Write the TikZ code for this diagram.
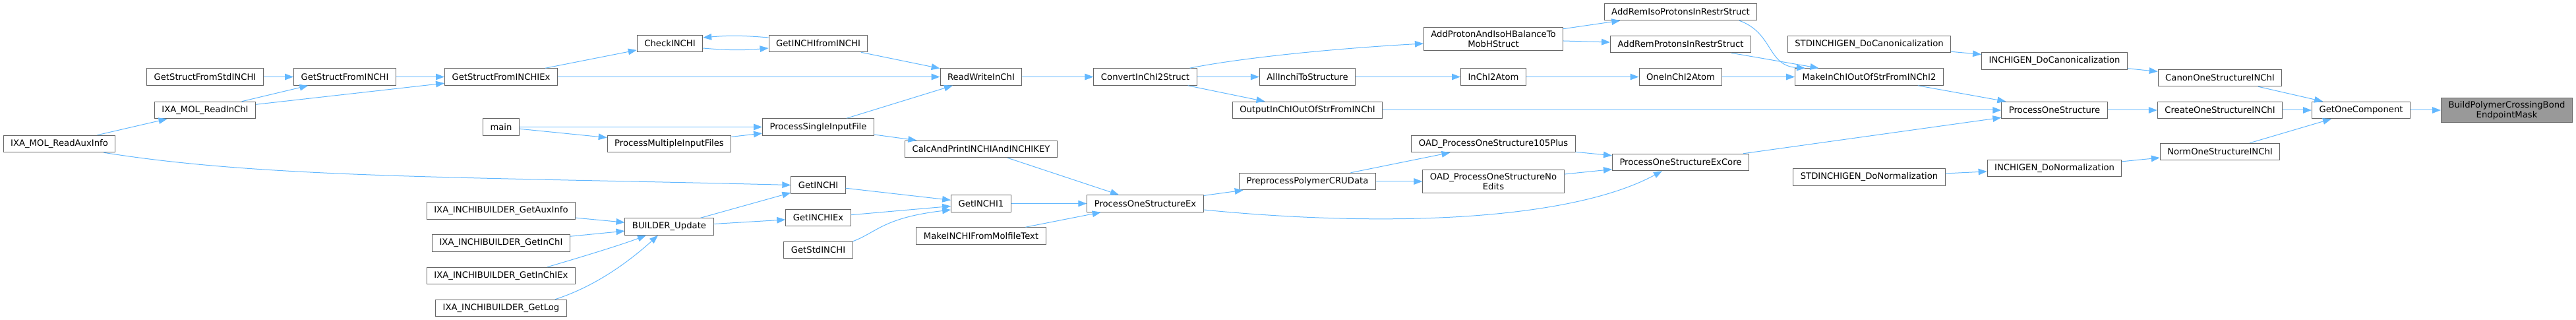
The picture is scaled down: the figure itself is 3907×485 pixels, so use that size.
\documentclass[tikz,border=0pt]{standalone}
\usepackage{fontspec}
\setmainfont{DejaVu Sans}
\usepackage{tikz}
\usetikzlibrary{arrows.meta}
\definecolor{edgeBlue}{RGB}{99, 184, 255}
\definecolor{boxGray}{RGB}{102, 102, 102}
\definecolor{hiGray}{RGB}{153, 153, 153}

\begin{document}
\begin{tikzpicture}[x=0.5pt,y=-0.5pt,
    fn/.style={draw=boxGray, line width=0.5pt, rectangle, fill=white, minimum height=12.75pt, inner xsep=5.5pt, inner ysep=2.4pt, align=center, font=\fontsize{6.6}{7.5}\selectfont},
    fnhi/.style={fn, fill=hiGray},
    call/.style={-{Triangle[length=6.5pt,width=4.8pt]}, edgeBlue, line width=0.5pt}]
        \useasboundingbox (0,0) rectangle (3907,485);

        % Callers on the far left
        \node[fn] (read_aux) at (90,218) {IXA\_MOL\_ReadAuxInfo};
        \node[fn] (struct_std) at (311,116.5) {GetStructFromStdINCHI};
        \node[fn] (read_inchi) at (311,167) {IXA\_MOL\_ReadInChI};
        \node[fn] (struct_inchi) at (523,116.5) {GetStructFromINCHI};
        \node[fn] (struct_ex) at (760,116.5) {GetStructFromINCHIEx};
        \node[fn] (main_fn) at (760,192.5) {main};
        \node[fn] (bld_aux) at (760,319.5) {IXA\_INCHIBUILDER\_GetAuxInfo};
        \node[fn] (bld_inchi) at (760,368.5) {IXA\_INCHIBUILDER\_GetInChI};
        \node[fn] (bld_inchiex) at (760,418) {IXA\_INCHIBUILDER\_GetInChIEx};
        \node[fn] (bld_log) at (760,467) {IXA\_INCHIBUILDER\_GetLog};

        % Second block
        \node[fn] (check_inchi) at (1016,66) {CheckINCHI};
        \node[fn] (multi_files) at (1015,218) {ProcessMultipleInputFiles};
        \node[fn] (bld_update) at (1015,343.5) {BUILDER\_Update};
        \node[fn] (inchi_from) at (1241,66) {GetINCHIfromINCHI};
        \node[fn] (single_file) at (1241,192.5) {ProcessSingleInputFile};
        \node[fn] (get_inchi) at (1241,280.5) {GetINCHI};
        \node[fn] (get_inchiex) at (1241,330) {GetINCHIEx};
        \node[fn] (get_std) at (1241,379) {GetStdINCHI};
        \node[fn] (read_write) at (1488,116.5) {ReadWriteInChI};
        \node[fn] (calc_print) at (1488,226) {CalcAndPrintINCHIAndINCHIKEY};
        \node[fn] (get_inchi1) at (1488,308.5) {GetINCHI1};
        \node[fn] (molfile) at (1488,357.5) {MakeINCHIFromMolfileText};

        % Middle block
        \node[fn] (convert) at (1737,116.5) {ConvertInChI2Struct};
        \node[fn] (pos_ex) at (1737,308.5) {ProcessOneStructureEx};
        \node[fn] (all_inchi) at (1983,116.5) {AllInchiToStructure};
        \node[fn] (output_inchi) at (1983,167) {OutputInChIOutOfStrFromINChI};
        \node[fn] (preproc) at (1983,275) {PreprocessPolymerCRUData};
        \node[fn] (add_balance) at (2265,59) {AddProtonAndIsoHBalanceTo\\MobHStruct};
        \node[fn] (inchi2atom) at (2265,116.5) {InChI2Atom};
        \node[fn] (oad_105) at (2265,218) {OAD\_ProcessOneStructure105Plus};
        \node[fn] (oad_noedit) at (2265,275) {OAD\_ProcessOneStructureNo\\Edits};
        \node[fn] (add_iso) at (2549,18) {AddRemIsoProtonsInRestrStruct};
        \node[fn] (add_rem) at (2549,67) {AddRemProtonsInRestrStruct};
        \node[fn] (one_inchi2atom) at (2549,116.5) {OneInChI2Atom};
        \node[fn] (pos_core) at (2549,246) {ProcessOneStructureExCore};

        % Right block
        \node[fn] (std_canon) at (2835,67) {STDINCHIGEN\_DoCanonicalization};
        \node[fn] (make_inchi2) at (2835,116.5) {MakeInChIOutOfStrFromINChI2};
        \node[fn] (std_norm) at (2835,268.5) {STDINCHIGEN\_DoNormalization};
        \node[fn] (gen_canon) at (3116,92.5) {INCHIGEN\_DoCanonicalization};
        \node[fn] (pos) at (3116,167) {ProcessOneStructure};
        \node[fn] (gen_norm) at (3116,255) {INCHIGEN\_DoNormalization};
        \node[fn] (canon_one) at (3367,118) {CanonOneStructureINChI};
        \node[fn] (create_one) at (3367,167) {CreateOneStructureINChI};
        \node[fn] (norm_one) at (3367,230) {NormOneStructureINChI};
        \node[fn] (one_comp) at (3581,167) {GetOneComponent};
        \node[fnhi] (build_mask) at (3802,167) {BuildPolymerCrossingBond\\EndpointMask};

        % Calls, left part
        \draw[call] (struct_std) -- (struct_inchi);
        \draw[call] (struct_inchi) -- (struct_ex);
        \draw[call] (read_inchi) -- (struct_inchi);
        \draw[call] (read_inchi) -- (struct_ex);
        \draw[call] (read_aux) -- (read_inchi);
        \draw[call] ([xshift=-9pt]read_aux.south east) .. controls (400,270) and (700,268) .. (get_inchi.west);
        \draw[call] (struct_ex) -- (check_inchi);
        \draw[call] (struct_ex) -- (read_write);
        \draw[call] ([yshift=4.5pt]inchi_from.west) to[bend right=5] ([yshift=4.5pt]check_inchi.east);
        \draw[call] ([yshift=-3.5pt]check_inchi.east) to[bend right=5] ([yshift=-3.5pt]inchi_from.west);
        \draw[call] (inchi_from) -- (read_write);
        \draw[call] (main_fn) -- (single_file);
        \draw[call] (main_fn) -- (multi_files);
        \draw[call] (multi_files) -- (single_file);
        \draw[call] (single_file) -- (read_write);
        \draw[call] (single_file) -- (calc_print);
        \draw[call] (bld_aux) -- (bld_update);
        \draw[call] (bld_inchi) -- (bld_update);
        \draw[call] ([xshift=-21.5pt]bld_inchiex.north east) .. controls (870,393) and (940,372) .. ([xshift=-17.5pt]bld_update.south);
        \draw[call] ([xshift=-9pt]bld_log.north east) .. controls (900,435) and (950,400) .. ([xshift=-8.5pt]bld_update.south);
        \draw[call] (bld_update) -- (get_inchi);
        \draw[call] (bld_update) -- (get_inchiex);
        \draw[call] (get_inchi) -- (get_inchi1);
        \draw[call] (get_inchiex) -- (get_inchi1);
        \draw[call] (get_std.north east) .. controls (1330,352) and (1340,330) .. ([yshift=-4.75pt]get_inchi1.west);

        % Calls, middle part
        \draw[call] (read_write) -- (convert);
        \draw[call] (calc_print) -- (pos_ex);
        \draw[call] (get_inchi1) -- (pos_ex);
        \draw[call] (molfile) -- (pos_ex);
        \draw[call] ([xshift=-5.5pt]convert.north east) .. controls (1870,90) and (2000,75) .. ([yshift=-3.5pt]add_balance.west);
        \draw[call] (convert) -- (all_inchi);
        \draw[call] (convert) -- (output_inchi);
        \draw[call] (pos_ex) -- (preproc);
        \draw[call] ([yshift=-4.75pt]pos_ex.east) .. controls (2100,345) and (2380,335) .. ([xshift=-14pt]pos_core.south);
        \draw[call] (all_inchi) -- (inchi2atom);
        \draw[call] (inchi2atom) -- (one_inchi2atom);
        \draw[call] (add_balance) -- (add_iso);
        \draw[call] (add_balance) -- (add_rem);
        \draw[call] (preproc) -- (oad_105);
        \draw[call] (preproc) -- (oad_noedit);
        \draw[call] (oad_105) -- (pos_core);
        \draw[call] (oad_noedit) -- (pos_core);

        % Calls, right part
        \draw[call] ([xshift=44.5pt]add_iso.south) .. controls (2690,50) and (2680,100) .. ([xshift=-48.5pt]make_inchi2.north);
        \draw[call] (add_rem) -- (make_inchi2);
        \draw[call] (one_inchi2atom) -- (make_inchi2);
        \draw[call] (output_inchi) -- (pos);
        \draw[call] (pos_core) -- (pos);
        \draw[call] (make_inchi2) -- (pos);
        \draw[call] (std_canon) -- (gen_canon);
        \draw[call] (gen_canon) -- (canon_one);
        \draw[call] (pos) -- (create_one);
        \draw[call] (std_norm) -- (gen_norm);
        \draw[call] (gen_norm) -- (norm_one);
        \draw[call] (canon_one) -- (one_comp);
        \draw[call] (create_one) -- (one_comp);
        \draw[call] (norm_one) -- (one_comp);
        \draw[call] (one_comp) -- (build_mask);

    \end{tikzpicture}
\end{document}
